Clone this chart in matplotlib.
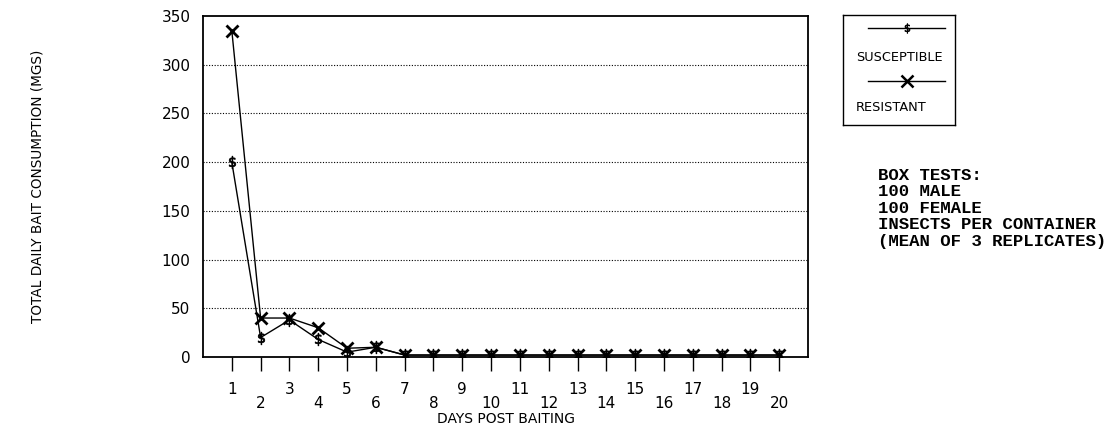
import matplotlib
matplotlib.use('Agg')
import matplotlib.pyplot as plt
import numpy as np

# bait consumption per day (mgs)
days = list(range(1, 21))
susceptible = [200, 20, 38, 18, 5, 10, 2, 2, 2, 2, 2, 2, 2, 2, 2, 2, 2, 2, 2, 2]
resistant = [335, 40, 40, 30, 9, 10, 2, 2, 2, 2, 2, 2, 2, 2, 2, 2, 2, 2, 2, 2]
yticks = [0, 50, 100, 150, 200, 250, 300, 350]
series_names = ['SUSCEPTIBLE', 'RESISTANT']
note_lines = ['BOX TESTS:', '100 MALE', '100 FEMALE',
              'INSECTS PER CONTAINER', '(MEAN OF 3 REPLICATES)']

W, H = 1116, 437
fig = plt.figure(figsize=(W / 100, H / 100), dpi=100)

def fig_box(x0, y0, x1, y1):
    """ pixel box (top-left origin) -> figure fraction rect """
    return [x0 / W, 1 - y1 / H, (x1 - x0) / W, (y1 - y0) / H]

ax = fig.add_axes(fig_box(203, 16, 808, 357))

s_style = dict(color='k', lw=1.0, marker=r'$\$$', ms=9, mew=0.6)
r_style = dict(color='k', lw=1.0, marker='x', ms=9, mew=2.0)

ax.plot(days, susceptible, **s_style)
ax.plot(days, resistant, **r_style)

ax.set_xlim(0, 21)
ax.set_ylim(0, 350)

# staggered day labels, odd on top row, even one row down
ax.set_xticks(days)
ax.set_xticklabels([str(d) if d % 2 else '\n' + str(d) for d in days],
                   fontsize=11, linespacing=0.95)
ax.tick_params(axis='x', direction='out', length=10, width=1, pad=8)
ax.set_yticks(yticks)
ax.set_yticklabels([str(v) for v in yticks], fontsize=11)
ax.tick_params(axis='y', length=0, pad=9)

for v in yticks[1:-1]:
    ax.axhline(v, color='k', lw=0.8, ls=(0, (1, 1.5)))

for sp in ax.spines.values():
    sp.set_linewidth(1.3)

ax.set_xlabel('DAYS POST BAITING', fontsize=10)
ax.xaxis.set_label_coords(0.5, -0.16)
ax.set_ylabel('TOTAL DAILY BAIT CONSUMPTION (MGS)', fontsize=9.8)
ax.yaxis.set_label_coords(-0.262, 0.5)

# legend box drawn by hand: sample line above the name
lax = fig.add_axes(fig_box(843, 15, 955, 125))
lax.set_xlim(0, 1)
lax.set_ylim(1, 0)
lax.set_xticks([])
lax.set_yticks([])
for sp in lax.spines.values():
    sp.set_linewidth(1.0)
lx = [0.22, 0.57, 0.91]
lax.plot(lx, [0.12] * 3, color='k', lw=1.0)
lax.plot([lx[1]], [0.12], ls='none', marker=r'$\$$', color='k', ms=7, mew=0.5)
lax.text(0.50, 0.39, series_names[0], ha='center', va='center', fontsize=9.3)
lax.plot(lx, [0.60] * 3, color='k', lw=1.0)
lax.plot([lx[1]], [0.60], ls='none', marker='x', color='k', ms=8, mew=1.8)
lax.text(0.43, 0.845, series_names[1], ha='center', va='center', fontsize=9.3)

fig.text(878 / W, 1 - 168 / H, '\n'.join(note_lines), ha='left', va='top',
         family=['Liberation Mono', 'DejaVu Sans Mono'], fontweight='bold',
         fontsize=12.5, linespacing=1.12)

fig.savefig('out.png', dpi=100)
